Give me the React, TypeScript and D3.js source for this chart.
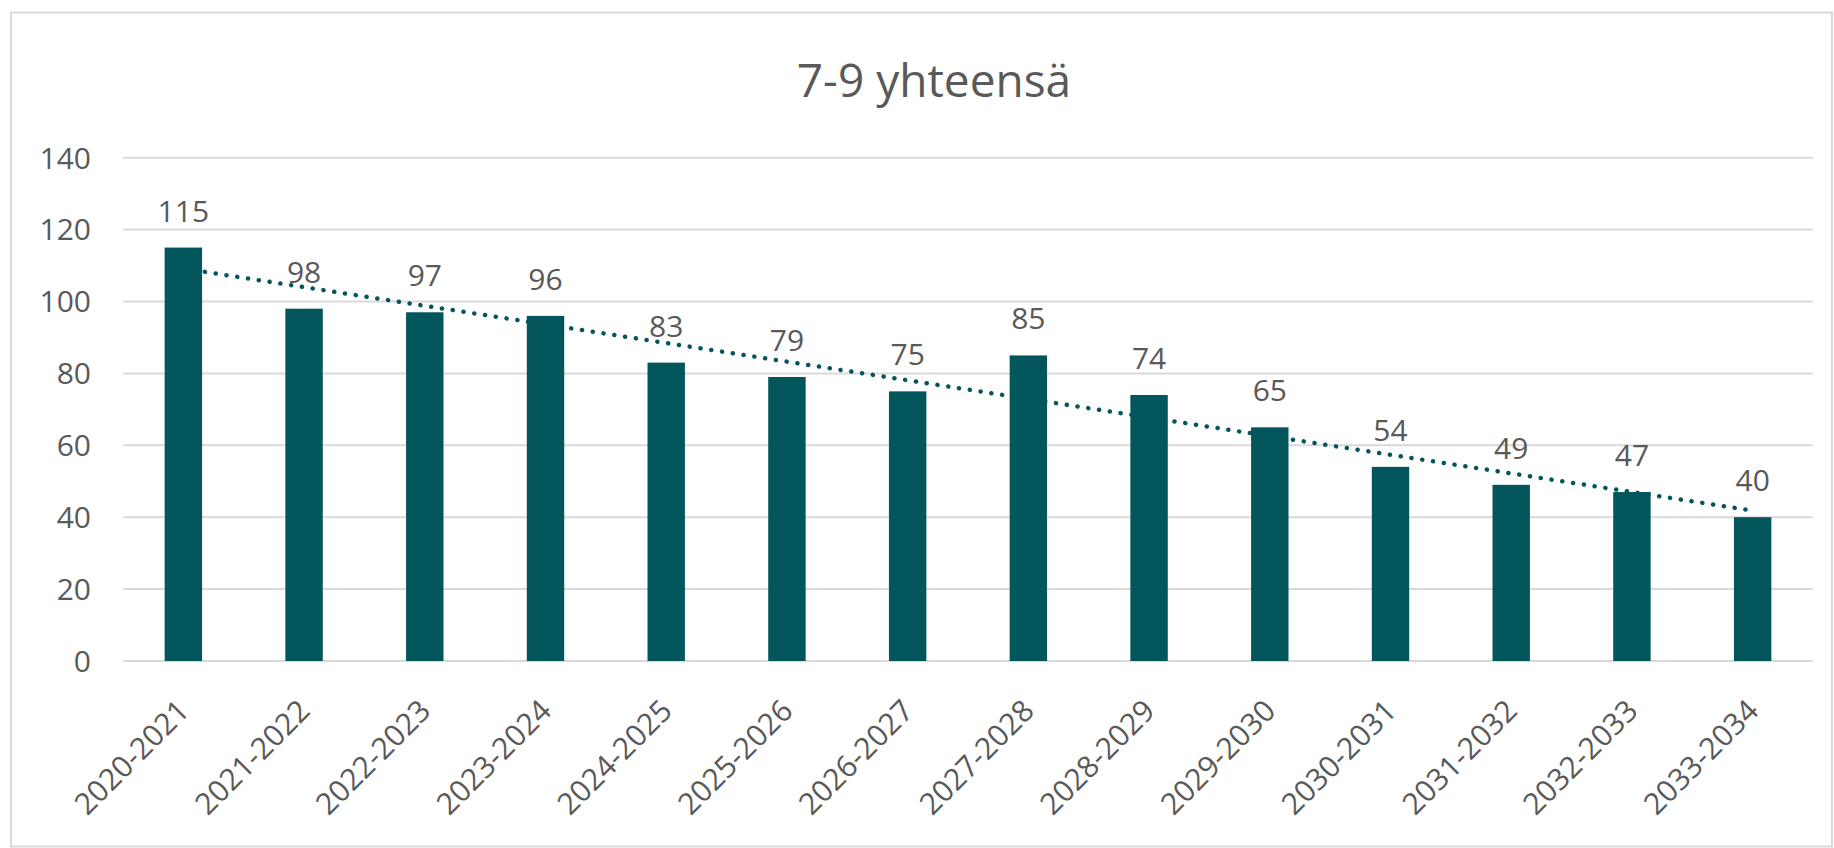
import React, { useEffect, useRef } from 'react';
import * as d3 from 'd3';

// data
const categories = [
    '2020-2021', '2021-2022', '2022-2023', '2023-2024', '2024-2025', '2025-2026', '2026-2027',
    '2027-2028', '2028-2029', '2029-2030', '2030-2031', '2031-2032', '2032-2033', '2033-2034'
];
const values = [115, 98, 97, 96, 83, 79, 75, 85, 74, 65, 54, 49, 47, 40];
const yTicks = [0, 20, 40, 60, 80, 100, 120, 140];
const title = '7-9 yhteensä';

const width = 1834;
const height = 848;

const barColor = '#03565b';
const textColor = '#595959';
const gridColor = '#d9d9d9';
const font = '"Open Sans", "Noto Sans", sans-serif';

const App = () => {
    const ref = useRef<SVGSVGElement>(null);

    // plot area
    const plot_x0 = 123;
    const plot_x1 = 1813;
    const plot_y0 = 157.7;
    const plot_y1 = 661;

    useEffect(() => {
        const svg = d3.select(ref.current);
        svg.selectAll('*').remove();

        // outer frame
        svg.append('rect')
            .attr('x', 11)
            .attr('y', 12.5)
            .attr('width', width - 13)
            .attr('height', height - 14)
            .attr('fill', '#ffffff')
            .attr('stroke', gridColor)
            .attr('stroke-width', 2);

        // title
        svg.append('text')
            .attr('x', 934)
            .attr('y', 97)
            .attr('text-anchor', 'middle')
            .style('font-family', font)
            .style('font-size', '46px')
            .attr('fill', textColor)
            .text(title);

        const xScale = d3.scaleBand<string>()
            .domain(categories)
            .range([plot_x0, plot_x1])
            .padding(0);

        const yScale = d3.scaleLinear()
            .domain([0, 140])
            .range([plot_y1, plot_y0]);

        const barWidth = xScale.bandwidth() * 0.31;
        const center = (c: string) => (xScale(c) as number) + xScale.bandwidth() / 2;

        // gridlines
        svg.append('g')
            .selectAll('line')
            .data(yTicks)
            .enter().append('line')
            .attr('x1', plot_x0)
            .attr('x2', plot_x1)
            .attr('y1', d => yScale(d))
            .attr('y2', d => yScale(d))
            .attr('stroke', gridColor)
            .attr('stroke-width', 2);

        // y labels
        svg.append('g')
            .selectAll('text')
            .data(yTicks)
            .enter().append('text')
            .attr('x', 91)
            .attr('y', d => yScale(d))
            .attr('dy', '0.36em')
            .attr('text-anchor', 'end')
            .style('font-family', font)
            .style('font-size', '30px')
            .attr('fill', textColor)
            .text(d => d);

        // bars
        svg.append('g')
            .selectAll('rect')
            .data(values)
            .enter().append('rect')
            .attr('x', (d, i) => center(categories[i]) - barWidth / 2)
            .attr('y', d => yScale(d))
            .attr('width', barWidth)
            .attr('height', d => yScale(0) - yScale(d))
            .attr('fill', barColor);

        // linear trendline (least squares over the category index)
        const n = values.length;
        const meanX = (n - 1) / 2;
        const meanY = d3.mean(values) as number;
        const sxy = d3.sum(values, (v, i) => (i - meanX) * (v - meanY));
        const sxx = d3.sum(values, (v, i) => (i - meanX) * (i - meanX));
        const slope = sxy / sxx;
        const intercept = meanY - slope * meanX;
        const trend = [0, n - 1].map(i => ({ c: categories[i], v: intercept + slope * i }));

        const line = d3.line<{ c: string; v: number }>()
            .x(d => center(d.c))
            .y(d => yScale(d.v));

        svg.append('path')
            .datum(trend)
            .attr('d', line)
            .attr('fill', 'none')
            .attr('stroke', barColor)
            .attr('stroke-width', 4.5)
            .attr('stroke-linecap', 'round')
            .attr('stroke-dasharray', '0.1 10.8');

        // data labels
        svg.append('g')
            .selectAll('text')
            .data(values)
            .enter().append('text')
            .attr('x', (d, i) => center(categories[i]))
            .attr('y', d => yScale(d) - 26)
            .attr('text-anchor', 'middle')
            .style('font-family', font)
            .style('font-size', '30px')
            .attr('fill', textColor)
            .text(d => d);

        // x labels
        svg.append('g')
            .selectAll('text')
            .data(categories)
            .enter().append('text')
            .attr('transform', d => `translate(${center(d)},${plot_y1 + 44}) rotate(-45)`)
            .attr('dy', '0.36em')
            .attr('text-anchor', 'end')
            .style('font-family', font)
            .style('font-size', '30px')
            .attr('fill', textColor)
            .text(d => d);
    }, []);

    return (
        <svg
            ref={ref}
            width={width}
            height={height}
            style={{ position: 'absolute', left: 0, top: 0, display: 'block' }}
        ></svg>
    );
};

export default App;
